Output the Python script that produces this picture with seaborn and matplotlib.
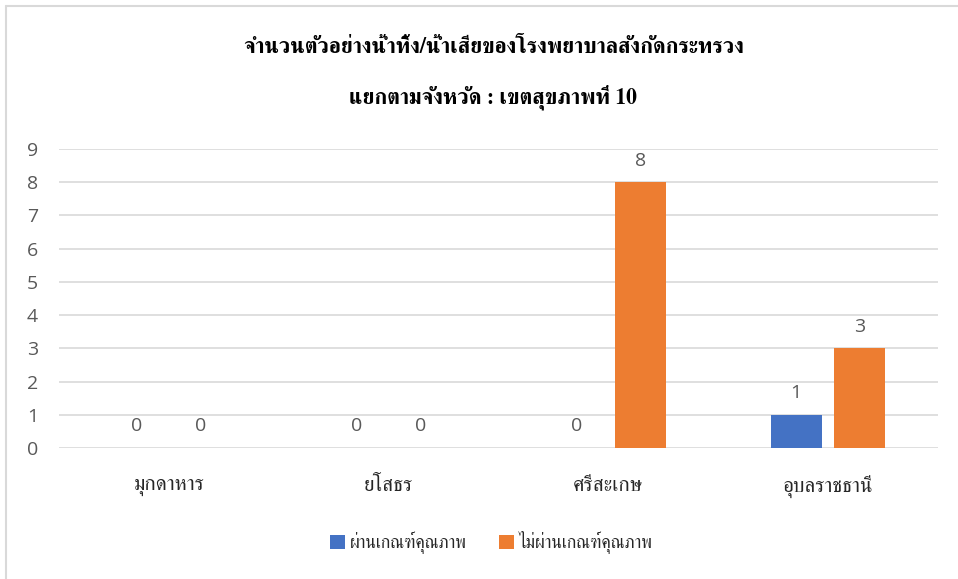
import pandas as pd
import matplotlib
matplotlib.use("Agg")
import matplotlib.pyplot as plt
import seaborn as sns
from matplotlib import font_manager
from fontTools.ttLib import TTFont

# data
provinces = ["มุกดาหาร", "ยโสธร", "ศรีสะเกษ", "อุบลราชธานี"]
passed = [0, 0, 0, 1]
failed = [0, 0, 8, 3]
series_names = ["ผ่านเกณฑ์คุณภาพ", "ไม่ผ่านเกณฑ์คุณภาพ"]
title_lines = ["จำนวนตัวอย่างน้ำทิ้ง/น้ำเสียของโรงพยาบาลสังกัดกระทรวง",
               "แยกตามจังหวัด : เขตสุขภาพที่ 10"]

colors = ["#4472C4", "#ED7D31"]
text_grey = "#595959"


def find_thai_fonts():
    # look for any installed font that has Thai glyphs
    names = []
    for f in font_manager.fontManager.ttflist:
        try:
            tt = TTFont(f.fname, fontNumber=0, lazy=True)
            cmap = tt.getBestCmap()
        except Exception:
            continue
        if cmap and ord("ก") in cmap and f.name not in names:
            names.append(f.name)
    return names


thai_fonts = find_thai_fonts()
thai_family = [n for n in ["FreeSerif", "Loma"] if n in thai_fonts] + thai_fonts + ["DejaVu Sans"]
num_family = ["Open Sans", "DejaVu Sans"]

df = pd.DataFrame({
    "province": provinces * 2,
    "value": passed + failed,
    "series": [series_names[0]] * len(provinces) + [series_names[1]] * len(provinces),
})

sns.set_theme(style="whitegrid")
plt.rcParams["font.family"] = thai_family

fig = plt.figure(figsize=(9.58, 5.79), dpi=100)
ax = fig.add_axes([0.0616, 0.2263, 0.9174, 0.5164])

sns.barplot(data=df, x="province", y="value", hue="series",
            palette=colors, width=0.58, gap=0.2, ax=ax, saturation=1,
            linewidth=0, edgecolor="none")

ax.set_ylim(0, 9)
ax.set_xlim(-0.5, 3.5)
ax.set_yticks(range(10))
ax.set_xlabel("")
ax.set_ylabel("")
ax.grid(axis="y", color="#D9D9D9", linewidth=1.2)
ax.grid(axis="x", visible=False)
ax.set_axisbelow(True)
ax.set_facecolor("white")
for s in ax.spines.values():
    s.set_visible(False)
ax.tick_params(axis="y", colors=text_grey, labelsize=14, length=0, pad=15)
ax.tick_params(axis="x", colors="#262626", labelsize=15, length=0, pad=20)
for lab in ax.get_yticklabels():
    lab.set_family(num_family)
for lab in ax.get_xticklabels():
    lab.set_family(thai_family)

for c in ax.containers:
    labels = ax.bar_label(c, fmt="%g", padding=9, color=text_grey, fontsize=14)
    for t in labels:
        t.set_family(num_family)

ax.legend(loc="upper center", bbox_to_anchor=(0.492, -0.225), ncol=2, frameon=False,
          handlelength=0.85, handleheight=0.85, handletextpad=0.3, columnspacing=1.8,
          prop={"family": thai_family, "size": 12.7})

fig.text(0.515, 0.918, title_lines[0], ha="center", va="center",
         fontsize=15.6, fontweight="bold", color="black")
fig.text(0.515, 0.832, title_lines[1], ha="center", va="center",
         fontsize=15.6, fontweight="bold", color="black")

# light frame at the top and left, like the cropped screenshot
fig.add_artist(plt.Line2D([0.0063, 0.0063], [0, 0.9896], color="#D9D9D9", lw=1.5))
fig.add_artist(plt.Line2D([0.0063, 1.0], [0.9896, 0.9896], color="#D9D9D9", lw=1.5))

fig.savefig("out.png", dpi=100, facecolor="white")
